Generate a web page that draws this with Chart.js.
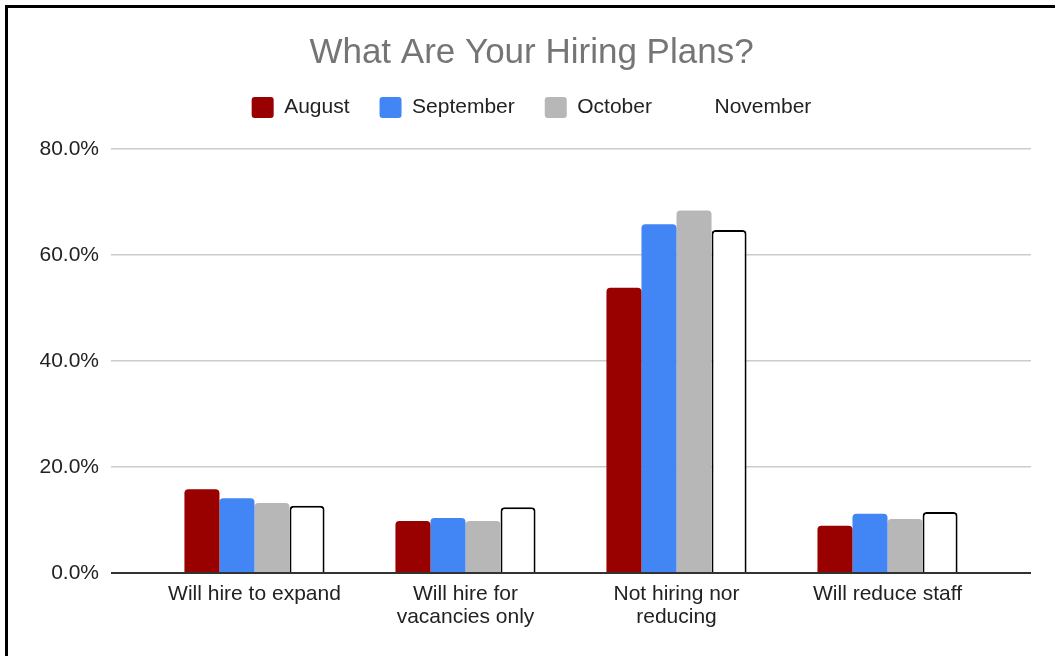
<!DOCTYPE html>
<html>
<head>
<meta charset="utf-8">
<title>What Are Your Hiring Plans?</title>
<script src="https://cdn.jsdelivr.net/npm/chart.js@4/dist/chart.umd.min.js"></script>
<style>
  html, body { margin: 0; padding: 0; background: #fff; }
  #frame {
    position: absolute;
    left: 5px;
    top: 5px;
    width: 1047px;
    height: 648px;
    border-left: 3px solid #000;
    border-top: 3px solid #000;
  }
  #hiringChart { display: block; }
</style>
</head>
<body>
<div id="frame">
  <canvas id="hiringChart" width="1047" height="648"></canvas>
</div>
<script>
// Survey answers, share of respondents per month (%)
const categories = [
    ['Will hire to expand'],
    ['Will hire for', 'vacancies only'],
    ['Not hiring nor', 'reducing'],
    ['Will reduce staff']
];
const august = [15.8, 9.8, 53.8, 8.9];
const september = [14.1, 10.4, 65.8, 11.2];
const october = [13.2, 9.8, 68.4, 10.2];
const november = [12.7, 12.4, 64.7, 11.5];
const yTicks = [0, 20, 40, 60, 80];

const fontFamily = '"Liberation Sans", Arial, Helvetica, sans-serif';

// bars sit on a linear x axis so the plot can run past the outer groups
const toPoints = values => values.map((v, i) => ({ x: i, y: v }));

// extra room between the legend row and the plot
const legendGap = {
    id: 'legendGap',
    beforeInit(chart) {
        const fit = chart.legend.fit;
        chart.legend.fit = function () {
            fit.call(this);
            this.height += 21;
        };
    }
};

const ctx = document.getElementById('hiringChart').getContext('2d');

const chart = new Chart(ctx, {
    type: 'bar',
    data: {
        datasets: [
            { label: 'August', data: toPoints(august), backgroundColor: '#990000', borderColor: '#990000', borderWidth: 0 },
            { label: 'September', data: toPoints(september), backgroundColor: '#4285f4', borderColor: '#4285f4', borderWidth: 0 },
            { label: 'October', data: toPoints(october), backgroundColor: '#b7b7b7', borderColor: '#b7b7b7', borderWidth: 0 },
            { label: 'November', data: toPoints(november), backgroundColor: '#ffffff', borderColor: '#000000', borderWidth: 2 }
        ]
    },
    plugins: [legendGap],
    options: {
        responsive: false,
        animation: false,
        layout: { padding: 0 },
        datasets: {
            bar: {
                categoryPercentage: 0.664,
                barPercentage: 1,
                borderRadius: 4,
                borderSkipped: 'start'
            }
        },
        plugins: {
            title: {
                display: true,
                text: 'What Are Your Hiring Plans?',
                color: '#757575',
                font: { family: fontFamily, size: 35, weight: 'normal', lineHeight: 0.8 },
                padding: { top: 31, bottom: 0 }
            },
            legend: {
                display: true,
                position: 'top',
                labels: {
                    color: '#222',
                    font: { family: fontFamily, size: 21 },
                    boxWidth: 22,
                    boxHeight: 21,
                    padding: 30,
                    useBorderRadius: true,
                    borderRadius: 3,
                    generateLabels: chart => chart.data.datasets.map((ds, i) => ({
                        text: ds.label,
                        fillStyle: ds.backgroundColor,
                        strokeStyle: ds.backgroundColor,
                        lineWidth: 0,
                        borderRadius: 3,
                        fontColor: '#222',
                        hidden: false,
                        datasetIndex: i
                    }))
                }
            },
            tooltip: { enabled: false }
        },
        scales: {
            x: {
                type: 'linear',
                min: -0.68,
                max: 3.68,
                offset: false,
                grid: { display: false, offset: false },
                border: { display: false },
                afterBuildTicks: axis => {
                    axis.ticks = categories.map((_, i) => ({ value: i }));
                },
                afterFit: scale => { scale.height = 83; },
                ticks: {
                    autoSkip: false,
                    maxRotation: 0,
                    padding: 2,
                    color: '#222',
                    font: { family: fontFamily, size: 21, lineHeight: 1.1 },
                    callback: value => categories[value] || ''
                }
            },
            y: {
                min: 0,
                max: 80,
                afterBuildTicks: axis => {
                    axis.ticks = yTicks.map(v => ({ value: v }));
                },
                afterFit: scale => { scale.width = 103; },
                border: { display: false },
                grid: {
                    drawTicks: false,
                    color: c => (c.tick && c.tick.value === 0) ? '#333333' : '#cccccc',
                    lineWidth: c => (c.tick && c.tick.value === 0) ? 2 : 1.5
                },
                ticks: {
                    padding: 12,
                    color: '#222',
                    font: { family: fontFamily, size: 21 },
                    callback: value => value.toFixed(1) + '%'
                }
            },
            // empty right-hand axis that only reserves the margin beside the plot
            yRight: {
                position: 'right',
                min: 0,
                max: 80,
                grid: { display: false },
                border: { display: false },
                ticks: { display: false },
                afterFit: scale => { scale.width = 24; }
            }
        }
    }
});
</script>
</body>
</html>
